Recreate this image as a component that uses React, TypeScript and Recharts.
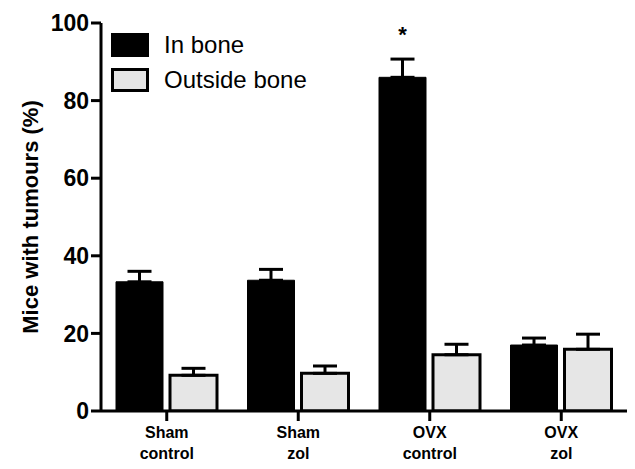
import { BarChart, Bar, XAxis, YAxis, ErrorBar, Legend, LabelList, Label } from 'recharts'

const categories = ['Sham control', 'Sham zol', 'OVX control', 'OVX zol']
const inBone = [33.3, 33.7, 86, 17]
const inBoneErr = [2.7, 2.8, 4.7, 1.8]
const outsideBone = [9.2, 9.7, 14.5, 15.9]
const outsideBoneErr = [1.8, 1.9, 2.7, 3.9]
const significance = ['', '', '*', '']
const yTicks = [0, 20, 40, 60, 80, 100]

const FONT = '"Liberation Sans", Arial, Helvetica, sans-serif'

// only upper error bars, so the lower bound is 0
const data = categories.map((name, i) => ({
  name,
  inBone: inBone[i],
  inBoneErr: [0, inBoneErr[i]],
  outside: outsideBone[i],
  outsideErr: [0, outsideBoneErr[i]],
  sig: significance[i],
}))

const CategoryTick = ({ x, y, payload }: any) => {
  const lines = String(payload.value).split(' ')
  return (
    <text x={x} y={y} textAnchor="middle" fontFamily={FONT} fontSize={16} fontWeight="bold" fill="#000">
      {lines.map((l, i) => (
        <tspan key={i} x={x} dy={i === 0 ? 15 : 21}>{l}</tspan>
      ))}
    </text>
  )
}

const LegendBox = ({ payload }: any) => (
  <div style={{ fontFamily: FONT }}>
    {(payload || []).map((entry: any, i: number) => (
      <div key={i} style={{ display: 'flex', alignItems: 'center', height: 35 }}>
        <div
          style={{
            width: entry.value === 'In bone' ? 38 : 32,
            height: entry.value === 'In bone' ? 24 : 18,
            background: entry.color,
            border: entry.value === 'In bone' ? 'none' : '3px solid #000',
            marginRight: 15,
          }}
        />
        <span style={{ fontSize: 24, color: '#000' }}>{entry.value}</span>
      </div>
    ))}
  </div>
)

const Star = ({ x, y, width, value }: any) =>
  value ? (
    <text x={x + width / 2} y={y - 35} textAnchor="middle" fontFamily={FONT} fontSize={22} fontWeight="bold" fill="#000">
      {value}
    </text>
  ) : null

export default function App() {
  return (
    <div style={{ position: 'absolute', left: 0, top: 0, width: 635, height: 469, background: '#fff' }}>
      <BarChart
        width={635}
        height={469}
        data={data}
        margin={{ top: 23, right: 8, left: 0, bottom: 0 }}
        barSize={47}
        barGap={7}
      >
        <XAxis
          dataKey="name"
          height={58}
          axisLine={{ stroke: '#000', strokeWidth: 3 }}
          tickLine={{ stroke: '#000', strokeWidth: 3 }}
          tickSize={10}
          tick={<CategoryTick />}
          interval={0}
        />
        <YAxis
          width={101}
          domain={[0, 100]}
          ticks={yTicks}
          allowDataOverflow
          axisLine={{ stroke: '#000', strokeWidth: 3 }}
          tickLine={{ stroke: '#000', strokeWidth: 3 }}
          tickSize={10}
          tick={{ fontFamily: FONT, fontSize: 23, fontWeight: 'bold', fill: '#000' }}
        >
          <Label
            content={({ viewBox }: any) => {
              const cx = viewBox.x + 30
              const cy = viewBox.y + viewBox.height / 2
              return (
                <text
                  x={cx}
                  y={cy}
                  transform={`rotate(-90 ${cx} ${cy})`}
                  textAnchor="middle"
                  dominantBaseline="central"
                  fontFamily={FONT}
                  fontSize={22}
                  fontWeight="bold"
                  fill="#000"
                >
                  Mice with tumours (%)
                </text>
              )
            }}
          />
        </YAxis>
        <Legend
          layout="vertical"
          align="center"
          verticalAlign="middle"
          wrapperStyle={{ left: 111, top: 27, width: 320 }}
          content={<LegendBox />}
        />
        <Bar dataKey="inBone" name="In bone" fill="#000" stroke="#000" strokeWidth={1} isAnimationActive={false}>
          <ErrorBar dataKey="inBoneErr" width={12} stroke="#000" strokeWidth={3} isAnimationActive={false} />
          <LabelList dataKey="sig" content={<Star />} />
        </Bar>
        <Bar dataKey="outside" name="Outside bone" fill="#e6e6e6" stroke="#000" strokeWidth={3} isAnimationActive={false}>
          <ErrorBar dataKey="outsideErr" width={12} stroke="#000" strokeWidth={3} isAnimationActive={false} />
        </Bar>
      </BarChart>
    </div>
  )
}
